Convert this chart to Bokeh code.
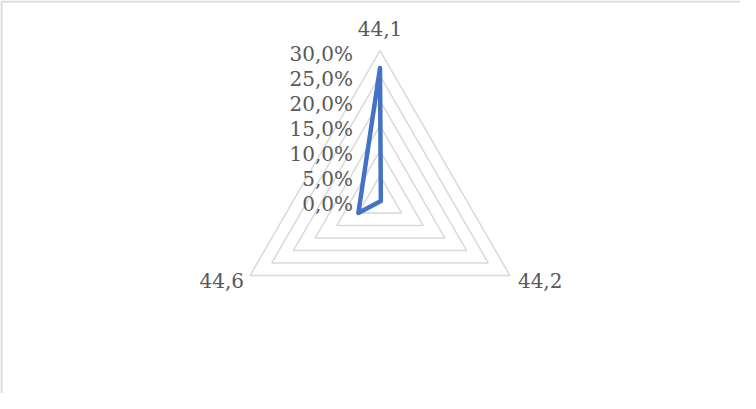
import numpy as np
from bokeh.plotting import figure
from bokeh.models import Range1d, ColumnDataSource
from bokeh.core.properties import value
from bokeh.embed import file_html
from bokeh.resources import INLINE

# ---- data ----
categories = ["44,1", "44,2", "44,6"]
values = [26.5, 0.2, 5.0]          # percent
tick_values = [0, 5, 10, 15, 20, 25, 30]
tick_labels = ["0,0%", "5,0%", "10,0%", "15,0%", "20,0%", "25,0%", "30,0%"]

# ---- layout ----
W, H = 740, 393
CX, CY = 379.5, 200.0      # centre in canvas pixels (from top-left)
PX = 5.0                   # pixels per percent
FONT = value("DejaVu Serif")
FS = "20px"
TXT = "#595959"
GRID = "#d9d9d9"
BLUE = "#4472C4"

p = figure(width=W, height=H, output_backend="svg", toolbar_location=None,
           x_range=Range1d(-CX / PX, (W - CX) / PX),
           y_range=Range1d(-(H - CY) / PX, CY / PX),
           min_border=0, outline_line_color=None)
p.axis.visible = False
p.grid.visible = False
p.background_fill_color = "white"
p.border_fill_color = "white"

n = len(categories)
angles = np.deg2rad(90 - 120 * np.arange(n))

# chart border (left and top edges visible)
x0 = p.x_range.start + 1.0 / PX
y1 = p.y_range.end - 1.0 / PX
p.line([x0, x0], [p.y_range.start - 5, y1], line_color=GRID, line_width=2)
p.line([x0, p.x_range.end + 5], [y1, y1], line_color=GRID, line_width=2)

# rings
xs, ys = [], []
for t in tick_values[1:]:
    rx = list(t * np.cos(angles)) + [t * np.cos(angles[0])]
    ry = list(t * np.sin(angles)) + [t * np.sin(angles[0])]
    xs.append(rx)
    ys.append(ry)
p.multi_line(xs, ys, line_color=GRID, line_width=1.5)

# data polygon
vx = [v * np.cos(a) for v, a in zip(values, angles)]
vy = [v * np.sin(a) for v, a in zip(values, angles)]
p.line(vx + [vx[0]], vy + [vy[0]], line_color=BLUE, line_width=4.5,
       line_join="round", line_cap="round")

# radial tick labels
src_t = ColumnDataSource(dict(x=[0] * len(tick_values), y=tick_values, t=tick_labels))
p.text("x", "y", text="t", source=src_t, x_offset=-27, y_offset=3,
       text_align="right", text_baseline="middle", text_font=FONT,
       text_font_size=FS, text_color=TXT)

# category labels
rmax = tick_values[-1]
cx = [rmax * np.cos(a) for a in angles]
cy = [rmax * np.sin(a) for a in angles]
p.text([cx[0]], [cy[0]], text=[categories[0]], y_offset=-22,
       text_align="center", text_baseline="middle", text_font=FONT,
       text_font_size=FS, text_color=TXT)
p.text([cx[1]], [cy[1]], text=[categories[1]], x_offset=8, y_offset=5,
       text_align="left", text_baseline="middle", text_font=FONT,
       text_font_size=FS, text_color=TXT)
p.text([cx[2]], [cy[2]], text=[categories[2]], x_offset=-6, y_offset=5,
       text_align="right", text_baseline="middle", text_font=FONT,
       text_font_size=FS, text_color=TXT)

open("out.html", "w").write(file_html(p, INLINE))
